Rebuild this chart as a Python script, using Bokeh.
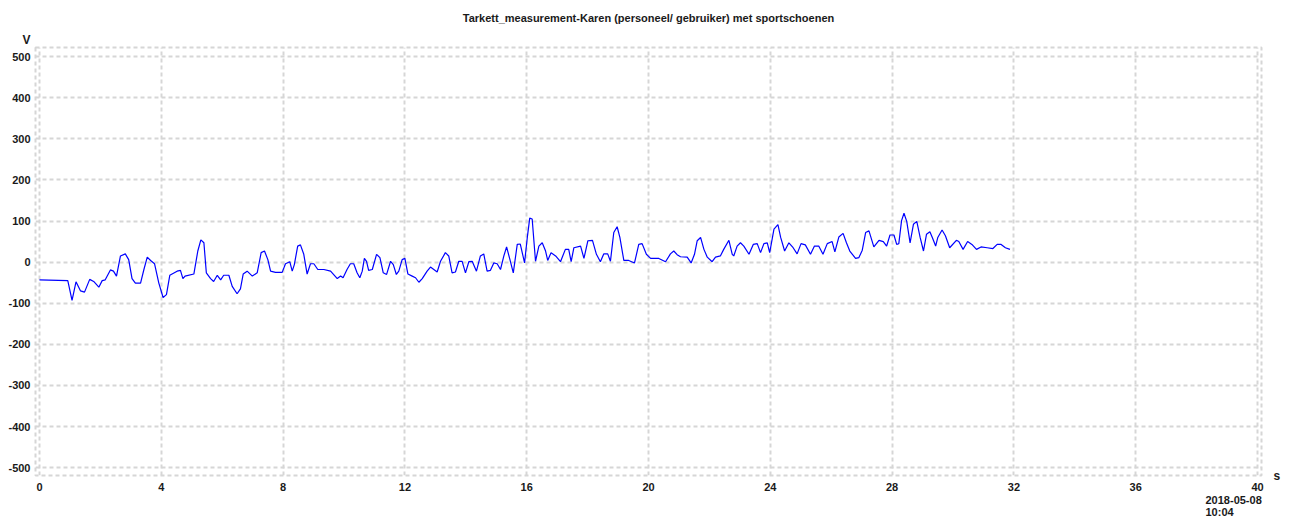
from bokeh.plotting import figure
from bokeh.models import FixedTicker, Title, LinearAxis, Range1d
from bokeh.embed import file_html
from bokeh.resources import INLINE

# ---- data ----
title_text = "Tarkett_measurement-Karen (personeel/ gebruiker) met sportschoenen"
y_unit = "V"
x_unit = "s"
date_line1 = "2018-05-08"
date_line2 = "10:04"

x_ticks = [0, 4, 8, 12, 16, 20, 24, 28, 32, 36, 40]
x_labels = ["0", "4", "8", "12", "16", "20", "24", "28", "32", "36", "40"]
y_ticks = [-500, -400, -300, -200, -100, 0, 100, 200, 300, 400, 500]
y_labels = ["-500", "-400", "-300", "-200", "-100", "0", "100", "200", "300", "400", "500"]

t = [0.00, 0.93, 1.07, 1.20, 1.35, 1.48, 1.65, 1.78, 1.95, 2.06, 2.16, 2.33, 2.43, 2.53,
     2.66, 2.82, 2.93, 3.04, 3.15, 3.32, 3.43, 3.54, 3.65, 3.78, 3.92, 4.06, 4.17, 4.28,
     4.52, 4.63, 4.71, 4.78, 5.07, 5.20, 5.30, 5.40, 5.48, 5.62, 5.72, 5.84, 5.95, 6.05,
     6.22, 6.33, 6.49, 6.60, 6.69, 6.82, 6.99, 7.15, 7.28, 7.39, 7.50, 7.59, 7.75, 7.97,
     8.08, 8.22, 8.30, 8.37, 8.48, 8.57, 8.68, 8.79, 8.90, 9.01, 9.14, 9.34, 9.56, 9.78,
     9.89, 9.97, 10.10, 10.21, 10.32, 10.43, 10.52, 10.60, 10.67, 10.74, 10.81, 10.93,
     11.07, 11.18, 11.29, 11.40, 11.53, 11.62, 11.72, 11.80, 11.91, 12.00, 12.10, 12.24,
     12.35, 12.46, 12.57, 12.73, 12.84, 12.95, 13.06, 13.17, 13.33, 13.44, 13.55, 13.66,
     13.77, 13.88, 13.99, 14.10, 14.21, 14.35, 14.48, 14.59, 14.70, 14.81, 14.92, 15.03,
     15.14, 15.25, 15.34, 15.45, 15.56, 15.69, 15.79, 15.93, 16.02, 16.10, 16.18, 16.29,
     16.40, 16.51, 16.62, 16.69, 16.80, 16.95, 17.11, 17.27, 17.38, 17.46, 17.55, 17.77,
     17.88, 18.01, 18.16, 18.29, 18.42, 18.53, 18.66, 18.75, 18.86, 18.97, 19.06, 19.19,
     19.35, 19.54, 19.68, 19.79, 19.93, 20.07, 20.34, 20.56, 20.72, 20.83, 20.94, 21.05,
     21.27, 21.40, 21.51, 21.60, 21.71, 21.82, 21.93, 22.09, 22.20, 22.36, 22.47, 22.64,
     22.75, 22.80, 22.91, 23.02, 23.13, 23.30, 23.44, 23.57, 23.68, 23.79, 23.90, 23.98,
     24.12, 24.25, 24.34, 24.47, 24.61, 24.75, 24.88, 25.01, 25.15, 25.32, 25.45, 25.59,
     25.73, 25.87, 26.03, 26.12, 26.25, 26.39, 26.50, 26.61, 26.80, 26.91, 27.02, 27.13,
     27.24, 27.40, 27.57, 27.71, 27.82, 27.93, 28.06, 28.15, 28.22, 28.31, 28.39, 28.48,
     28.59, 28.70, 28.81, 28.92, 29.03, 29.13, 29.24, 29.32, 29.43, 29.50, 29.64, 29.75,
     29.89, 30.11, 30.19, 30.33, 30.48, 30.62, 30.77, 30.92, 31.12, 31.31, 31.45, 31.58,
     31.72, 31.87]

v = [-43, -45, -93, -48, -70, -73, -42, -47, -61, -45, -43, -19, -22, -34,
     15, 20, 6, -40, -51, -51, -18, 12, 4, -4, -51, -86, -79, -32,
     -22, -20, -40, -34, -29, 27, 54, 47, -26, -40, -47, -32, -43, -32,
     -32, -59, -77, -65, -29, -22, -34, -26, 23, 27, 6, -22, -25, -25,
     -4, 1, -22, -6, 39, 42, 19, -29, -4, -4, -18, -18, -22, -40,
     -34, -38, -18, -4, -4, -26, -38, -22, 9, 2, -20, -18,
     19, 11, -26, -30, 2, -6, -30, -22, 6, 9, -29, -34,
     -38, -49, -40, -22, -12, -18, -24, 2, 23, 15, -26, -24,
     2, 2, -26, 1, 2, -22, 15, 20, -22, -20, -2, -4,
     -18, 15, 37, 6, -26, 43, 44, -2, 60, 107, 105, 2,
     39, 47, 27, 4, 23, 15, 1, 31, 31, 1, 35, 39,
     9, 52, 53, 19, 1, 20, 20, 2, 72, 86, 60, 4,
     4, -2, 43, 45, 19, 9, 9, 1, 20, 27, 18, 13,
     12, -2, 19, 52, 60, 31, 12, 1, 12, 15, 31, 53,
     19, 15, 39, 47, 39, 19, 43, 45, 23, 45, 47, 23,
     80, 91, 60, 27, 47, 35, 20, 45, 42, 19, 39, 39,
     19, 45, 50, 25, 61, 70, 47, 27, 9, 11, 29, 72,
     76, 37, 53, 50, 39, 66, 66, 43, 45, 101, 119, 99,
     47, 92, 99, 60, 27, 68, 74, 60, 39, 60, 78, 64,
     35, 53, 50, 31, 50, 43, 31, 37, 35, 33, 43, 43,
     35, 31]

FONT = "Liberation Sans"
GRID = "#d6d6d6"
TXT = "#1a1a1a"

p = figure(width=1292, height=519, title=None,
           x_range=(-0.13, 40.13), y_range=(-519, 522),
           output_backend="svg", toolbar_location=None,
           min_border_left=35, min_border_right=31,
           min_border_top=47, min_border_bottom=44)

p.background_fill_color = "white"
p.border_fill_color = "white"
p.outline_line_color = GRID
p.outline_line_width = 2
p.outline_line_dash = "4 3"

txt_kw = dict(text_font=FONT, text_font_style="bold", text_color=TXT)

# above: unit "V" (closest to frame), then main title
p.add_layout(Title(text=y_unit, align="left", offset=-13, standoff=2,
                   text_font_size="12px", **txt_kw), "above")
p.add_layout(Title(text=title_text, align="center", offset=3, standoff=11,
                   text_font_size="11px", **txt_kw), "above")

p.xaxis.ticker = FixedTicker(ticks=x_ticks)
p.yaxis.ticker = FixedTicker(ticks=y_ticks)
p.xaxis.major_label_overrides = {tk: lb for tk, lb in zip(x_ticks, x_labels)}
p.yaxis.major_label_overrides = {tk: lb for tk, lb in zip(y_ticks, y_labels)}

# right-hand axis carrying only the time unit "s", at the bottom corner
p.extra_y_ranges = {"unit": Range1d(0, 1)}
s_axis = LinearAxis(y_range_name="unit", ticker=FixedTicker(ticks=[0]),
                    major_label_overrides={0: x_unit})
p.add_layout(s_axis, "right")

for ax in (p.xaxis[0], p.yaxis[0], s_axis):
    ax.axis_line_color = None
    ax.major_tick_line_color = None
    ax.minor_tick_line_color = None
    ax.major_tick_out = 0
    ax.major_tick_in = 0
    ax.minor_tick_out = 0
    ax.minor_tick_in = 0
    ax.major_label_text_font = FONT
    ax.major_label_text_font_size = "11px"
    ax.major_label_text_font_style = "bold"
    ax.major_label_text_color = TXT
p.xaxis[0].major_label_standoff = 7
p.yaxis[0].major_label_standoff = 5
s_axis.major_label_standoff = 12
s_axis.major_label_text_font_size = "12px"

# below: acquisition date and time
p.add_layout(Title(text=date_line1, align="left", offset=1170, standoff=0,
                   text_font_size="11px", **txt_kw), "below")
p.add_layout(Title(text=date_line2, align="left", offset=1170, standoff=0,
                   text_font_size="11px", **txt_kw), "below")

for g in (p.xgrid, p.ygrid):
    g.grid_line_color = GRID
    g.grid_line_width = 2
    g.grid_line_dash = "4 3"

p.line(t, v, line_color="#0000ff", line_width=1.2)

open("out.html", "w").write(file_html(p, INLINE))
